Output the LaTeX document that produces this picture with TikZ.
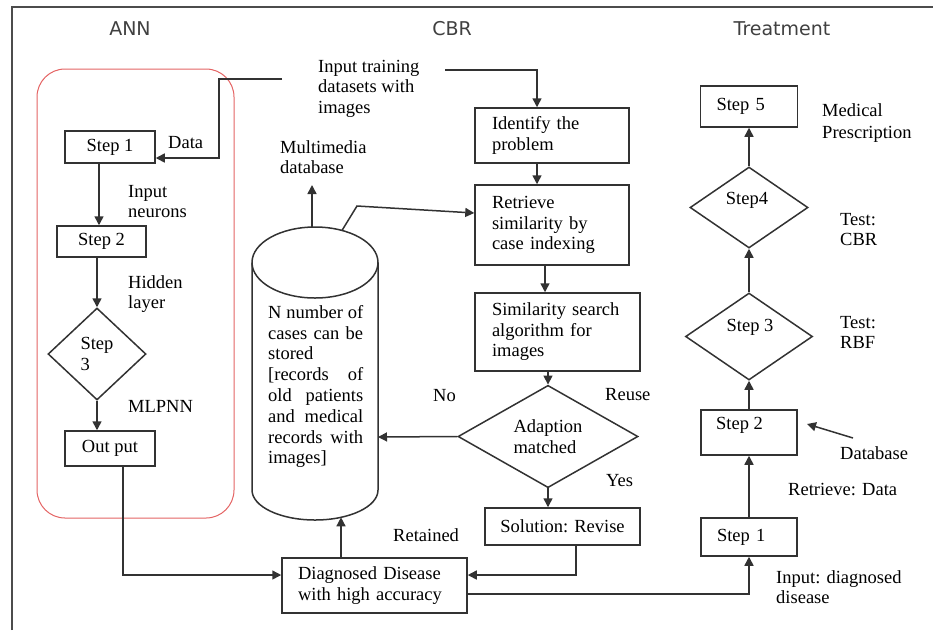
\documentclass[tikz,border=0pt]{standalone}
\usepackage{fontspec}
\setmainfont{Liberation Serif}
\newfontfamily\hdfont{DejaVu Sans}
\usetikzlibrary{shapes.geometric,arrows.meta}
\definecolor{annred}{RGB}{228,100,100}
\definecolor{ink}{RGB}{50,50,50}
\begin{document}
\begin{tikzpicture}[x=1pt,y=-1pt,
  every node/.style={font=\fontsize{18.5}{20.5}\selectfont, text=black},
  box/.style={draw=ink, line width=1.5pt, inner sep=0pt, rectangle},
  dmd/.style={draw=ink, line width=1.5pt, inner sep=0pt, diamond},
  lbl/.style={inner sep=0pt, align=left, anchor=north west},
  hdr/.style={font=\hdfont\fontsize{19}{22}\selectfont, text=black!75},
  arr/.style={draw=ink, line width=1.5pt, -{Triangle[length=9pt,width=9pt]}},
  ln/.style={draw=ink, line width=1.5pt},
]
\useasboundingbox (0,0) rectangle (933,630);
% frame
\draw[draw=black!70, line width=1.5pt] (12,630) -- (12,7) -- (933,7);
% headers
\node[hdr] (hann) at (130,29) {ANN};
\node[hdr] (hcbr) at (452,29) {CBR};
\node[hdr] (htrt) at (782,29) {Treatment};
% ANN group
\draw[draw=annred, line width=1pt, rounded corners=28pt] (37,69) rectangle (234,518);
\node[box, minimum width=90pt, minimum height=32pt] (a1) at (110,147) {Step 1};
\node[box, minimum width=89pt, minimum height=31pt] (a2) at (101.5,241.5) {Step 2};
\node[dmd, minimum width=98pt, minimum height=92pt, align=left] (a3) at (97,354) {Step\\3};
\node[box, minimum width=90pt, minimum height=35pt] (a4) at (110,448.5) {Out put};
% CBR
\node[box, minimum width=154pt, minimum height=55pt, text width=120pt, align=left] (c1) at (552,135.5) {Identify the\\problem};
\node[box, minimum width=154pt, minimum height=80pt, text width=120pt, align=left] (c2) at (552,225) {Retrieve\\similarity by\\case indexing};
\node[box, minimum width=165pt, minimum height=78pt, text width=131pt, align=left] (c3) at (557.5,332) {Similarity search\\algorithm for\\images};
\node[dmd, minimum width=180pt, minimum height=87pt, align=left] (c4) at (548,436.5) {Adaption\\matched};
\node[box, minimum width=155pt, minimum height=37pt] (c5) at (562.5,526.5) {Solution: Revise};
\node[box, minimum width=185pt, minimum height=55pt, text width=153pt, align=left] (dg) at (374.5,585.5) {Diagnosed Disease\\with high accuracy};
% cylinder
\draw[ln] (252,262.5) -- (252,490) arc[start angle=180, end angle=360, x radius=63pt, y radius=30pt] -- (378,262.5);
\draw[ln] (315,262.5) ellipse [x radius=63pt, y radius=35.5pt];
\node[lbl, font=\fontsize{18.5}{20.8}\selectfont] (cyltxt) at (268,305) {\makebox[95pt][s]{N number of}\\ \makebox[95pt][s]{cases can be}\\ stored\\ \makebox[95pt][s]{[records of}\\ \makebox[95pt][s]{old patients}\\ \makebox[95pt][s]{and medical}\\ \makebox[95pt][s]{records with}\\ images]};
\coordinate (cyltop) at (312,227);
\coordinate (cylrt) at (342,230.4);
\coordinate (cylright) at (378,437);
\coordinate (cylbot) at (341,517.3);
\coordinate (mmtip) at (312,185);
\coordinate (bend1) at (357,206);
\coordinate (inL) at (282,79);
\coordinate (inR) at (445,70);
\coordinate (dataCorner) at (219,79);
% Treatment
\node[box, minimum width=96pt, minimum height=38pt, text width=64pt, align=left] (t1) at (749,537) {Step 1};
\node[box, minimum width=96pt, minimum height=45pt] (t2) at (749,432.5) {};
\node[lbl] (t2txt) at (716,417) {Step 2};
\node[dmd, minimum width=127pt, minimum height=87pt] (t3) at (749,336.5) {};
\node[inner sep=0pt] (t3txt) at (750,327) {Step 3};
\node[dmd, minimum width=118pt, minimum height=81pt] (t4) at (749,207.5) {};
\node[inner sep=0pt] (t4txt) at (747,200) {Step4};
\node[box, minimum width=97pt, minimum height=41pt, text width=65pt, align=left] (t5) at (749,106.5) {Step 5};
\coordinate (dbA) at (853,438);
\coordinate (dbB) at (807,424);
% labels
\node[lbl] (lData) at (168,136) {Data};
\node[lbl] (lInN) at (128,185) {Input\\neurons};
\node[lbl] (lHid) at (128,275) {Hidden\\layer};
\node[lbl] (lMLP) at (128,400) {MLPNN};
\node[lbl] (lInT) at (318,60) {Input training\\datasets with\\images};
\node[lbl] (lMM) at (280,140) {Multimedia\\database};
\node[lbl] (lNo) at (433,389) {No};
\node[lbl] (lReuse) at (605,388) {Reuse};
\node[lbl] (lYes) at (606,474) {Yes};
\node[lbl] (lRet) at (393,528) {Retained};
\node[lbl, font=\fontsize{18.5}{22}\selectfont] (lMed) at (822,103) {Medical\\Prescription};
\node[lbl] (lCBR) at (840,213) {Test:\\CBR};
\node[lbl] (lRBF) at (840,316) {Test:\\RBF};
\node[lbl] (lDB) at (840,446) {Database};
\node[lbl] (lRD) at (788,483) {Retrieve: Data};
\node[lbl] (lID) at (776,570) {Input: diagnosed\\disease};
% connectors ANN
\draw[arr] (inL) -- (dataCorner) |- ([yshift=-11pt]a1.east);
\draw[arr] ([xshift=-11pt]a1.south) -- ([xshift=-11pt]a1.south |- a2.north);
\draw[arr] (a2.south -| a3.north) -- (a3.north);
\draw[arr] (a3.south) -- (a3.south |- a4.north);
\draw[arr] ([xshift=13pt]a4.south) |- ([yshift=10.5pt]dg.west);
% connectors CBR
\draw[arr] (inR) -| ([xshift=-15pt]c1.north);
\draw[arr] ([xshift=-15pt]c1.south) -- ([xshift=-15pt]c1.south |- c2.north);
\draw[arr] ([xshift=-7pt]c2.south) -- ([xshift=-7pt]c2.south |- c3.north);
\draw[arr] (c3.south -| c4.north) -- (c4.north);
\draw[arr] (c4.south) -- (c4.south |- c5.north);
\draw[arr] (c4.west) -- (cylright);
\draw[arr] ([xshift=13.5pt]c5.south) |- ([yshift=10.5pt]dg.east);
\draw[arr] ([xshift=-33.5pt]dg.north) -- (cylbot);
\draw[arr] (cyltop) -- (mmtip);
\draw[arr] (cylrt) -- (bend1) -- ([yshift=12pt]c2.west);
% connectors Treatment
\draw[arr] ([yshift=-8.5pt]dg.east) -| (t1.south);
\draw[arr] (t1.north) -- (t2.south);
\draw[arr] (t2.north) -- (t3.south);
\draw[arr] (t3.north) -- (t4.south);
\draw[arr] (t4.north) -- (t5.south);
\draw[arr] (dbA) -- (dbB);
\end{tikzpicture}
\end{document}
